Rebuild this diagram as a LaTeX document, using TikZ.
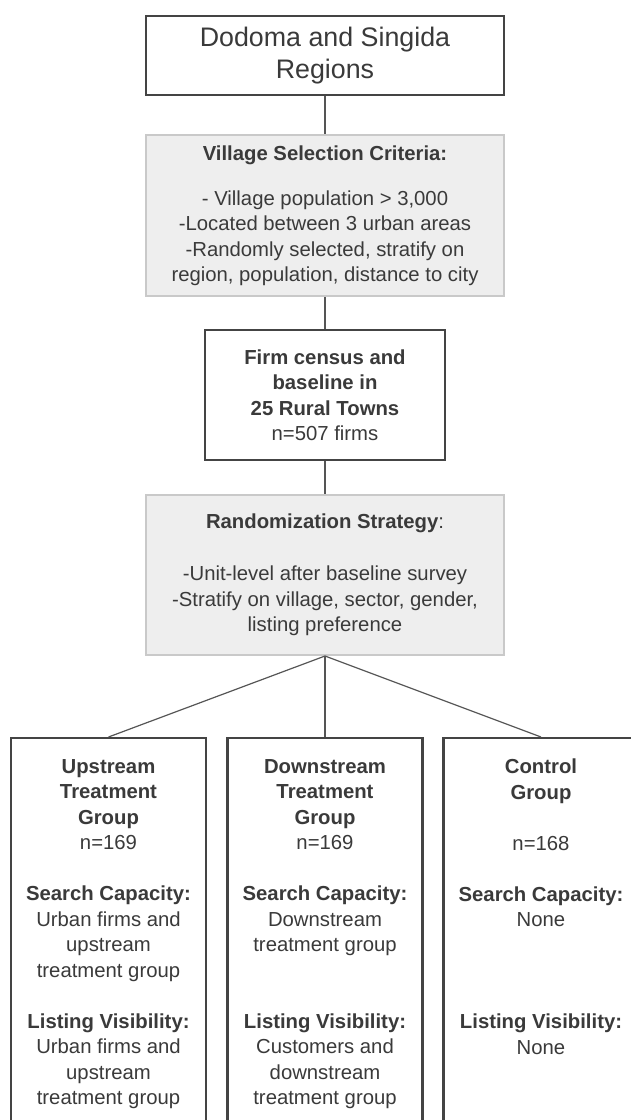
\documentclass[tikz,border=0pt]{standalone}
\usepackage{fontspec}
\setmainfont{Liberation Sans}
\usepackage{xcolor}
\usetikzlibrary{positioning}

\definecolor{inkdark}{HTML}{3A3A3A}
\definecolor{boxline}{HTML}{444444}
\definecolor{panelfill}{HTML}{EEEEEE}
\definecolor{panelline}{HTML}{C9C9C9}
\definecolor{linkline}{HTML}{555555}

\begin{document}
\begin{tikzpicture}[x=1pt,y=-1pt,
  txt/.style={text=inkdark,align=center,inner sep=0pt,font=\fontsize{20.3}{25.5}\selectfont},
  darkbox/.style={draw=boxline,line width=2.2pt,fill=white,inner sep=0pt},
  panel/.style={draw=panelline,line width=2pt,fill=panelfill,inner sep=0pt},
  link/.style={draw=linkline,line width=1.2pt}]
  \useasboundingbox (0,0) rectangle (631,1120);
  \clip (0,0) rectangle (631,1120);
  % top part
  \node[darkbox,minimum width=358,minimum height=79,txt,font=\fontsize{26.8}{32}\selectfont] (region) at (325,55.5) {Dodoma and Singida\\Regions};
  \node[panel,minimum width=358,minimum height=161,txt] (criteria) at (325,215.5)
    {\textbf{Village Selection Criteria:}\\[19.5pt]
     - Village population > 3,000\\
     -Located between 3 urban areas\\
     -Randomly selected, stratify on\\
     region, population, distance to city};
  \node[darkbox,minimum width=240,minimum height=130,txt] (census) at (325,395)
    {\textbf{Firm census and}\\\textbf{baseline in}\\\textbf{25 Rural Towns}\\n=507 firms};
  \node[panel,minimum width=358,minimum height=160,txt] (strategy) at (325,575)
    {\textbf{Randomization Strategy}:\\[26.5pt]
     -Unit-level after baseline survey\\
     -Stratify on village, sector, gender,\\
     listing preference};
  \draw[link] (region.south) -- (criteria.north);
  \draw[link] (criteria.south) -- (census.north);
  \draw[link] (census.south) -- (strategy.north);
  % treatment arms
  \foreach \name/\x in {upstream/108.5,downstream/325,control/541} {
    \node[darkbox,minimum width=195,minimum height=400,anchor=north] (\name) at (\x,737) {};
    \draw[link] (strategy.south) -- (\name.north);
  }
  \node[txt,anchor=north] (upstreamtxt) at ([yshift=-22pt]upstream.north)
    {\textbf{Upstream}\\\textbf{Treatment}\\\textbf{Group}\\n=169\\[25.5pt]
     \textbf{Search Capacity:}\\Urban firms and\\upstream\\treatment group\\[25.5pt]
     \textbf{Listing Visibility:}\\Urban firms and\\upstream\\treatment group};
  \node[txt,anchor=north] (downstreamtxt) at ([yshift=-22pt]downstream.north)
    {\textbf{Downstream}\\\textbf{Treatment}\\\textbf{Group}\\n=169\\[25.5pt]
     \textbf{Search Capacity:}\\Downstream\\treatment group\\[51pt]
     \textbf{Listing Visibility:}\\Customers and\\downstream\\treatment group};
  \node[txt,anchor=north] (controltxt) at ([yshift=-22pt]control.north)
    {\textbf{Control}\\\textbf{Group}\\[25.5pt]n=168\\[25.5pt]
     \textbf{Search Capacity:}\\None\\[76.5pt]
     \textbf{Listing Visibility:}\\None};
\end{tikzpicture}
\end{document}
